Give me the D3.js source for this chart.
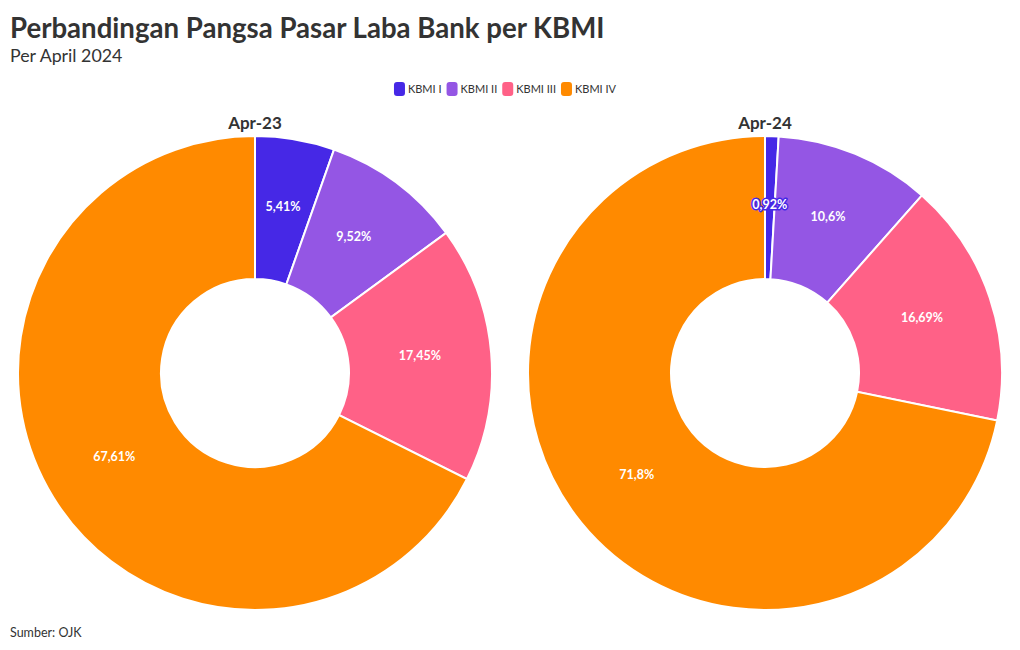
<!DOCTYPE html>
<html><head><meta charset="utf-8">
<script src="https://cdn.jsdelivr.net/npm/d3@7"></script>
<style>
body{margin:0;background:#fff;}
text{font-family:"Source Sans Pro","Lato","Noto Sans",sans-serif;}
</style></head>
<body><svg id="c" width="1020" height="650"></svg>
<script>
const categories = ["KBMI I","KBMI II","KBMI III","KBMI IV"];
const periods = ["Apr-23","Apr-24"];
const apr23 = [5.41, 9.52, 17.45, 67.61];
const apr24 = [0.92, 10.6, 16.69, 71.8];
const labels23 = ["5,41%","9,52%","17,45%","67,61%"];
const labels24 = ["0,92%","10,6%","16,69%","71,8%"];
const colors = ["#4628E6","#9456E4","#FF6187","#FF8A00"];

const svg = d3.select("#c");
svg.append("text").attr("x",10).attr("y",38).attr("font-size",27.6).attr("font-weight",700).attr("fill","#333")
  .text("Perbandingan Pangsa Pasar Laba Bank per KBMI");
svg.append("text").attr("x",10).attr("y",62).attr("font-size",17.8).attr("fill","#333").text("Per April 2024");
svg.append("text").attr("x",10).attr("y",637).attr("font-size",12.5).attr("fill","#333").text("Sumber: OJK");

// legend
const color = d3.scaleOrdinal().domain(categories).range(colors);
const lg = svg.append("g");
let lx = 0;
categories.forEach(c=>{
  const g = lg.append("g").attr("transform",`translate(${lx},0)`);
  g.append("rect").attr("x",0).attr("y",-7).attr("width",11).attr("height",14).attr("rx",3).attr("fill",color(c));
  const t = g.append("text").attr("x",14).attr("y",4).attr("font-size",11).attr("fill","#333").text(c);
  lx += 14 + t.node().getComputedTextLength() + 5;
});
lg.attr("transform",`translate(${505 - (lx-5)/2},89)`);

const outerR = 237, innerR = 94;
const pie = d3.pie().sort(null).value(d=>d.v);
const arc = d3.arc().innerRadius(innerR).outerRadius(outerR);
const datasets = [apr23, apr24];
const labelsets = [labels23, labels24];
const cx = d3.scalePoint().domain(periods).range([255,765]);

periods.forEach((p,i)=>{
  const g = svg.append("g").attr("transform",`translate(${cx(p)},373)`);
  svg.append("text").attr("x",cx(p)).attr("y",129).attr("text-anchor","middle").attr("font-size",17)
    .attr("font-weight",700).attr("fill","#333").text(p);
  const data = categories.map((c,j)=>({c, v:datasets[i][j], l:labelsets[i][j]}));
  const arcs = pie(data);
  g.selectAll("path").data(arcs).join("path").attr("d",arc).attr("fill",d=>color(d.data.c))
    .attr("stroke","#fff").attr("stroke-width",2);
  g.selectAll("text.lbl").data(arcs).join("text").attr("class","lbl")
    .attr("transform",d=>`translate(${arc.centroid(d)})`).attr("text-anchor","middle").attr("dy","0.1em")
    .attr("font-size",12.5).attr("font-weight",700).attr("fill","#fff")
    .attr("stroke",d=> (d.endAngle-d.startAngle) < 0.2 ? color(d.data.c) : "none")
    .attr("stroke-width",3).attr("paint-order","stroke").attr("stroke-linejoin","round")
    .text(d=>d.data.l);
});
</script></body></html>
